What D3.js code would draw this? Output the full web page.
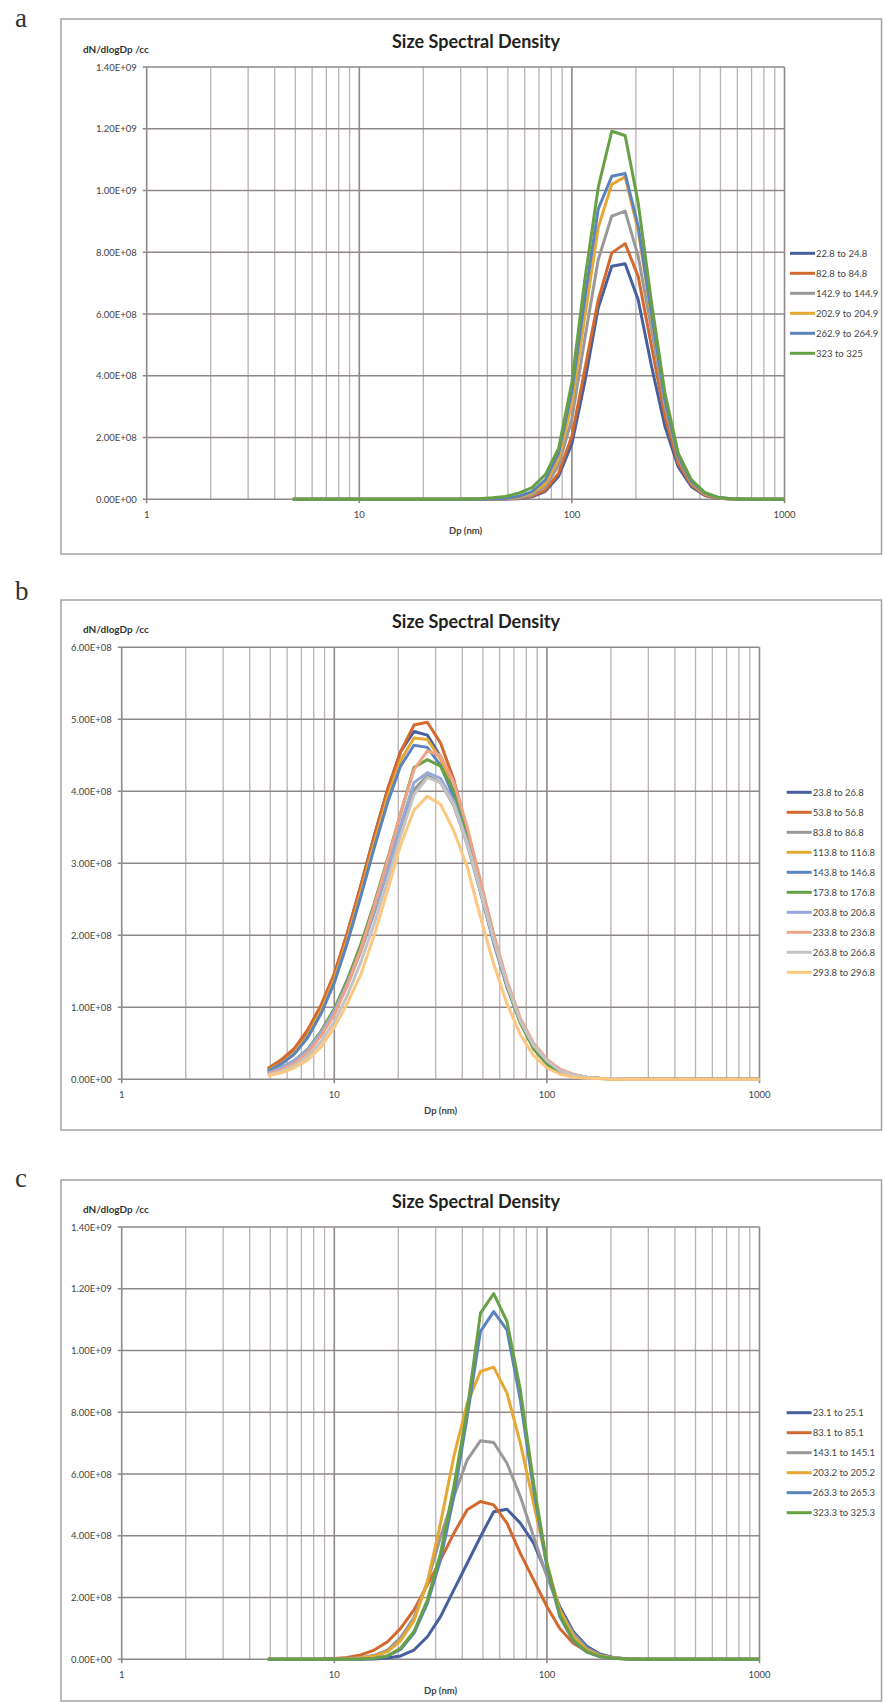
<!DOCTYPE html>
<html>
<head>
<meta charset="utf-8">
<script src="https://cdn.jsdelivr.net/npm/d3@7/dist/d3.min.js"></script>
<style>
  body { margin: 0; background: #ffffff; }
  text { font-family: Lato, "Liberation Sans", sans-serif; }
</style>
</head>
<body>
<script>
// particle diameter bins (nm), shared by all three charts
const dp = [4.87, 5.62, 6.49, 7.50, 8.66, 10.0, 11.5, 13.3, 15.4, 17.8,
            20.5, 23.7, 27.4, 31.6, 36.5, 42.2, 48.7, 56.2, 64.9, 75.0,
            86.6, 100, 115, 133, 154, 178, 205, 237, 274, 316,
            365, 422, 487, 562, 649, 750, 866, 1000];

const xTicks = [1, 10, 100, 1000];
const yTicksA = [0, 2e8, 4e8, 6e8, 8e8, 1e9, 1.2e9, 1.4e9];
const yTicksB = [0, 1e8, 2e8, 3e8, 4e8, 5e8, 6e8];
const yTicksC = [0, 2e8, 4e8, 6e8, 8e8, 1e9, 1.2e9, 1.4e9];

// ---- chart a (values in units of 1E+08 /cc) ----
const namesA = ["22.8 to 24.8", "82.8 to 84.8", "142.9 to 144.9", "202.9 to 204.9", "262.9 to 264.9", "323 to 325"];
const a1 = [0,0,0,0,0, 0,0,0,0,0, 0,0,0,0,0, 0,0.01,0.02,0.08,0.26, 0.75,1.8,3.8,6.2,7.55, 7.63,6.46,4.3,2.36,1.06, 0.41,0.12,0.03,0.01,0, 0,0,0];
const a2 = [0,0,0,0,0, 0,0,0,0,0, 0,0,0,0,0, 0,0.01,0.03,0.1,0.3, 0.85,2.05,4.2,6.46,7.98, 8.28,7.22,4.95,2.68,1.17, 0.46,0.14,0.04,0.01,0, 0,0,0];
const a3 = [0,0,0,0,0, 0,0,0,0,0, 0,0,0,0,0, 0.01,0.02,0.05,0.14,0.42, 1.1,2.6,5.2,7.76,9.17, 9.33,7.87,5.5,3.0,1.33, 0.52,0.17,0.05,0.01,0, 0,0,0];
const a4 = [0,0,0,0,0, 0,0,0,0,0, 0,0,0,0,0, 0.01,0.03,0.07,0.2,0.5, 1.3,3.1,5.9,8.8,10.2, 10.44,8.7,5.9,3.15,1.38, 0.54,0.18,0.05,0.01,0, 0,0,0];
const a5 = [0,0,0,0,0, 0,0,0,0,0, 0,0,0,0,0, 0.01,0.03,0.1,0.25,0.63, 1.5,3.5,6.5,9.4,10.46, 10.55,8.85,6.0,3.2,1.4, 0.57,0.2,0.06,0.02,0, 0,0,0];
const a6 = [0,0,0,0,0, 0,0,0,0,0, 0,0,0,0.01,0.02, 0.05,0.09,0.2,0.38,0.8, 1.65,3.8,7.1,10.1,11.92, 11.78,9.6,6.36,3.44,1.5, 0.63,0.22,0.06,0.02,0.01, 0,0,0];

// ---- chart b ----
const namesB = ["23.8 to 26.8", "53.8 to 56.8", "83.8 to 86.8", "113.8 to 116.8", "143.8 to 146.8",
                "173.8 to 176.8", "203.8 to 206.8", "233.8 to 236.8", "263.8 to 266.8", "293.8 to 296.8"];
const b1 = [0.13,0.24,0.40,0.65,1.00, 1.45,2.02,2.68,3.38,4.02, 4.55,4.83,4.78,4.48,3.98, 3.32,2.60,1.90,1.28,0.79, 0.46,0.25,0.12,0.06,0.03, 0.01,0.01,0,0,0, 0,0,0,0,0, 0,0,0];
const b2 = [0.15,0.27,0.43,0.69,1.03, 1.47,2.03,2.68,3.37,4.02, 4.55,4.92,4.96,4.67,4.16, 3.46,2.72,1.98,1.33,0.82, 0.48,0.26,0.13,0.06,0.03, 0.01,0.01,0,0,0, 0,0,0,0,0, 0,0,0];
const b3 = [0.08,0.14,0.24,0.39,0.62, 0.92,1.30,1.77,2.31,2.90, 3.50,4.02,4.22,4.12,3.80, 3.26,2.60,1.93,1.32,0.82, 0.47,0.26,0.12,0.06,0.03, 0.01,0.01,0,0,0, 0,0,0,0,0, 0,0,0];
const b4 = [0.12,0.22,0.37,0.61,0.95, 1.39,1.94,2.59,3.28,3.92, 4.43,4.74,4.72,4.45,3.97, 3.32,2.62,1.92,1.30,0.80, 0.46,0.25,0.12,0.06,0.03, 0.01,0.01,0,0,0, 0,0,0,0,0, 0,0,0];
const b5 = [0.11,0.21,0.35,0.58,0.91, 1.34,1.89,2.53,3.21,3.84, 4.35,4.64,4.61,4.36,3.92, 3.30,2.62,1.93,1.31,0.81, 0.47,0.25,0.12,0.06,0.03, 0.01,0.01,0,0,0, 0,0,0,0,0, 0,0,0];
const b6 = [0.09,0.16,0.26,0.42,0.67, 0.98,1.38,1.87,2.44,3.06, 3.69,4.33,4.44,4.35,4.00, 3.42,2.71,2.00,1.30,0.78, 0.42,0.21,0.09,0.04,0.02, 0.01,0,0,0,0, 0,0,0,0,0, 0,0,0];
const b7 = [0.09,0.16,0.26,0.41,0.65, 0.95,1.33,1.80,2.34,2.93, 3.53,4.12,4.26,4.18,3.86, 3.30,2.62,1.94,1.33,0.82, 0.47,0.26,0.12,0.06,0.03, 0.01,0.01,0,0,0, 0,0,0,0,0, 0,0,0];
const b8 = [0.07,0.13,0.22,0.37,0.60, 0.90,1.30,1.80,2.40,3.04, 3.70,4.30,4.56,4.50,4.12, 3.50,2.76,2.02,1.37,0.85, 0.50,0.28,0.14,0.07,0.03, 0.01,0.01,0,0,0, 0,0,0,0,0, 0,0,0];
const b9 = [0.06,0.11,0.19,0.32,0.52, 0.80,1.16,1.62,2.16,2.76, 3.38,3.95,4.19,4.12,3.82, 3.28,2.62,1.94,1.32,0.81, 0.47,0.26,0.12,0.06,0.03, 0.01,0.01,0,0,0, 0,0,0,0,0, 0,0,0];
const b10 = [0.05,0.09,0.16,0.27,0.45, 0.72,1.05,1.45,2.00,2.62, 3.25,3.74,3.93,3.82,3.45, 2.95,2.25,1.60,1.05,0.62, 0.33,0.16,0.07,0.03,0.015, 0.01,0,0,0,0, 0,0,0,0,0, 0,0,0];

// ---- chart c ----
const namesC = ["23.1 to 25.1", "83.1 to 85.1", "143.1 to 145.1", "203.2 to 205.2", "263.3 to 265.3", "323.3 to 325.3"];
const c1 = [0,0,0,0,0, 0,0,0,0.01,0.04, 0.11,0.30,0.73,1.38,2.25, 3.11,3.97,4.78,4.86,4.41, 3.76,2.75,1.7,0.9,0.42, 0.17,0.06,0.02,0.005,0, 0,0,0,0,0, 0,0,0];
const c2 = [0,0,0,0.005,0.01, 0.03,0.06,0.14,0.30,0.57, 1.0,1.6,2.41,3.22,4.08, 4.84,5.11,5.0,4.41,3.43, 2.57,1.71,1.0,0.52,0.25, 0.11,0.04,0.015,0.005,0, 0,0,0,0,0, 0,0,0];
const c3 = [0,0,0,0,0.005, 0.01,0.02,0.05,0.13,0.3, 0.7,1.35,2.5,3.97,5.27, 6.46,7.08,7.02,6.35,5.27, 3.97,2.68,1.6,0.84,0.36, 0.14,0.05,0.02,0.005,0, 0,0,0,0,0, 0,0,0];
const c4 = [0,0,0,0,0, 0.005,0.015,0.04,0.1,0.25, 0.6,1.25,2.5,4.41,6.57, 8.29,9.32,9.46,8.62,7.0, 5.05,3.11,1.6,0.73,0.3, 0.11,0.04,0.015,0.005,0, 0,0,0,0,0, 0,0,0];
const c5 = [0,0,0,0,0, 0,0.005,0.01,0.03,0.11, 0.32,0.84,1.81,3.22,5.27, 7.86,10.62,11.26,10.67,8.4, 5.49,3.0,1.38,0.6,0.23, 0.08,0.03,0.01,0,0, 0,0,0,0,0, 0,0,0];
const c6 = [0,0,0,0,0, 0,0,0.01,0.03,0.11, 0.36,0.9,1.92,3.43,5.6, 8.08,11.21,11.84,10.94,8.73, 5.7,3.11,1.44,0.63,0.25, 0.09,0.03,0.01,0,0, 0,0,0,0,0, 0,0,0];

const colors = ["#46609f", "#d4692f", "#999999", "#e6a833", "#5b84bf", "#68a046",
                "#96a8d8", "#f0a287", "#c4c4c4", "#fdc77f"];

const svg = d3.select("body").append("svg")
  .attr("width", 883).attr("height", 1703);

/** "1.40E+09" style label like the spreadsheet */
function sci(v) {
  if (v === 0) return "0.00E+00";
  let e = Math.floor(Math.log10(v) + 1e-9);
  let m = v / Math.pow(10, e);
  return m.toFixed(2) + "E" + (e < 0 ? "-" : "+") + String(Math.abs(e)).padStart(2, "0");
}

function drawPanel(p) {
  let g = svg.append("g");

  // outer chart frame
  g.append("rect").attr("x", p.box[0]).attr("y", p.box[1])
    .attr("width", p.box[2]).attr("height", p.box[3])
    .style("fill", "none").style("stroke", "#a3a3a3").style("stroke-width", 1.5);

  // panel letter
  g.append("text").attr("x", 15).attr("y", p.letterY).text(p.letter)
    .style("font-family", "'Liberation Serif', serif").style("font-size", "27px").style("fill", "#333");

  let x = d3.scaleLog().domain([1, 1000]).range([p.l, p.r]);
  let y = d3.scaleLinear().domain([0, p.yTicks[p.yTicks.length - 1]]).range([p.b, p.t]);

  // minor vertical grid
  let minor = x.ticks().filter(d => xTicks.indexOf(d) < 0);
  g.selectAll(".vmin").data(minor).enter().append("line")
    .attr("x1", d => x(d)).attr("x2", d => x(d)).attr("y1", p.t).attr("y2", p.b)
    .style("stroke", "#b9b3b3").style("stroke-width", 1.3);
  // horizontal grid
  g.selectAll(".hgrid").data(p.yTicks).enter().append("line")
    .attr("x1", p.l - 4).attr("x2", p.r).attr("y1", d => y(d)).attr("y2", d => y(d))
    .style("stroke", "#8f8888").style("stroke-width", 1.6);
  // decade vertical grid
  g.selectAll(".vmaj").data(xTicks).enter().append("line")
    .attr("x1", d => x(d)).attr("x2", d => x(d)).attr("y1", p.t).attr("y2", p.b + 4)
    .style("stroke", "#8f8888").style("stroke-width", 1.6);

  // axis labels
  g.selectAll(".ylab").data(p.yTicks).enter().append("text")
    .attr("x", p.l - 10).attr("y", d => y(d) + 3.5).attr("text-anchor", "end")
    .style("font-size", "9.5px").style("fill", "#444").text(d => sci(d));
  g.selectAll(".xlab").data(xTicks).enter().append("text")
    .attr("x", d => x(d)).attr("y", p.b + 19).attr("text-anchor", "middle")
    .style("font-size", "9.5px").style("fill", "#444").text(d => d);

  g.append("text").attr("x", (p.l + p.r) / 2).attr("y", p.b + 35).attr("text-anchor", "middle")
    .style("font-size", "9.5px").style("font-weight", "bold").style("fill", "#444").text("Dp (nm)");
  g.append("text").attr("x", 83).attr("y", p.t - 14)
    .style("font-size", "10px").style("font-weight", "bold").style("fill", "#333").text("dN/dlogDp /cc");
  g.append("text").attr("x", 476).attr("y", p.titleY).attr("text-anchor", "middle")
    .style("font-size", "18px").style("font-weight", "bold").style("fill", "#222").text("Size Spectral Density");

  // series
  let line = d3.line().x((d, i) => x(dp[i])).y(d => y(d * 1e8));
  g.selectAll(".series").data(p.series).enter().append("path")
    .attr("d", d => line(d))
    .style("fill", "none").style("stroke", (d, i) => colors[i])
    .style("stroke-width", 3).style("stroke-linejoin", "round");

  // legend
  let lg = g.selectAll(".leg").data(p.names).enter().append("g")
    .attr("transform", (d, i) => "translate(" + p.legX + "," + (p.legY + i * 20) + ")");
  lg.append("line").attr("x1", 0).attr("x2", 25).attr("y1", 0).attr("y2", 0)
    .style("stroke", (d, i) => colors[i]).style("stroke-width", 3);
  lg.append("text").attr("x", 26).attr("y", 3.5).text(d => d)
    .style("font-size", "9.5px").style("fill", "#444");
}

drawPanel({ letter: "a", letterY: 27, box: [61, 19, 820.5, 535],
  l: 146.7, r: 784.5, t: 67, b: 499.3, yTicks: yTicksA, titleY: 48,
  legX: 790, legY: 253.3, names: namesA, series: [a1, a2, a3, a4, a5, a6] });

drawPanel({ letter: "b", letterY: 600, box: [61, 600, 820.5, 530],
  l: 121.7, r: 759.5, t: 647.3, b: 1079.3, yTicks: yTicksB, titleY: 628,
  legX: 786.7, legY: 792.3, names: namesB, series: [b1, b2, b3, b4, b5, b6, b7, b8, b9, b10] });

drawPanel({ letter: "c", letterY: 1187, box: [61, 1180, 820.5, 521],
  l: 121.7, r: 759.5, t: 1227, b: 1659.3, yTicks: yTicksC, titleY: 1208,
  legX: 786.7, legY: 1412.7, names: namesC, series: [c1, c2, c3, c4, c5, c6] });
</script>
</body>
</html>
